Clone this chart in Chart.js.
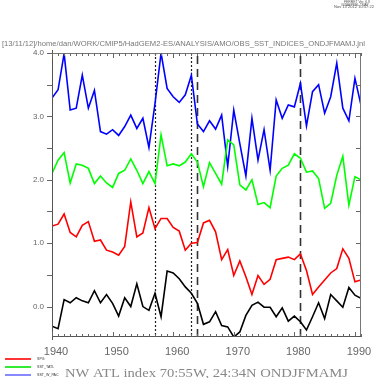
<!DOCTYPE html>
<html>
<head>
<meta charset="utf-8">
<script src="https://cdn.jsdelivr.net/npm/chart.js@4"></script>
<style>
  html, body { margin: 0; padding: 0; background: #fff; }
  canvas { display: block; }
</style>
</head>
<body>
<canvas id="c" width="384" height="378" style="width:384px;height:378px"></canvas>
<script>
// ---- data ----
const years = [];
for (let y = 1940; y <= 1991; y++) years.push(y);

const nwAtlIndex = [-0.31,-0.35,0.11,0.06,0.14,0.09,0.06,0.25,0.06,0.19,
  0.05,-0.15,0.14,0.00,0.36,0.00,-0.06,0.21,-0.16,0.56,
  0.53,0.44,0.31,0.21,0.05,-0.28,-0.24,-0.08,-0.30,-0.32,
  -0.48,-0.40,-0.14,0.02,0.07,-0.01,-0.01,-0.16,-0.02,-0.23,
  -0.15,-0.24,-0.37,-0.16,0.06,-0.19,0.19,0.09,-0.01,0.30,
  0.18,0.13];
const spg = [1.27,1.30,1.46,1.17,1.10,1.28,1.34,1.03,1.05,0.89,
  0.86,0.81,0.95,1.65,1.10,1.16,1.56,1.23,1.39,1.39,
  1.25,1.19,0.89,1.00,1.01,1.32,1.36,1.18,0.74,0.90,
  0.49,0.72,0.47,0.19,0.49,0.35,0.43,0.74,0.76,0.78,
  0.74,0.83,0.57,0.19,0.31,0.42,0.53,0.60,0.91,0.76,
  0.39,0.42];
const sstTatl = [2.10,2.31,2.43,1.95,2.25,2.23,2.18,1.94,2.06,1.95,
  1.88,2.10,2.15,2.33,2.15,1.94,2.13,1.94,2.71,2.22,
  2.25,2.22,2.28,2.41,2.28,1.89,2.27,2.10,1.93,2.63,
  2.55,1.92,1.84,2.00,1.61,1.64,1.56,2.06,2.18,2.23,
  2.41,2.34,2.12,2.14,2.02,1.55,1.63,2.07,2.37,1.60,
  2.05,2.00];
const sstWPac = [3.29,3.42,3.99,3.10,3.13,3.65,3.13,3.41,2.76,2.72,
  2.79,2.70,2.84,3.02,2.81,2.97,2.51,3.20,4.00,3.44,
  3.31,3.22,3.34,3.65,2.88,2.76,2.93,2.80,3.02,2.21,
  3.10,2.57,2.06,2.97,2.31,2.79,2.15,3.26,2.97,3.18,
  3.15,3.52,2.85,3.39,3.50,3.05,3.31,3.84,3.13,2.93,
  3.60,3.18];

const xTickLabels = [1940, 1950, 1960, 1970, 1980, 1990];
const yTickLabels = [0, 1, 2, 3, 4];
const yMinorTicks = [0, 0.5, 1, 1.5, 2, 2.5, 3, 3.5, 4];
const dottedYears = [1957, 1963];
const dashedYears = [1964, 1981];
const legendNames = ['SPG', 'SST_TATL', 'SST_W_PAC'];
const legendColors = ['#ff0000', '#00e600', '#6a6aff'];

const titleText = '[13/11/12]/home/dan/WORK/CMIP5/HadGEM2-ES/ANALYSIS/AMO/OBS_SST_INDICES_ONDJFMAMJ.jnl';
const footerText = 'NW ATL index 70:55W, 24:34N ONDJFMAMJ';
const headerLines = ['FERRET Ver. 6.8', 'NOAA/PMEL TMAP', 'Nov 13 2012 10:57:22'];

const toXY = arr => arr.map((v, i) => ({ x: years[i], y: v }));

function fitText(ctx, text, x, y, width, font, color, align) {
  ctx.save();
  ctx.font = font;
  ctx.fillStyle = color;
  ctx.textBaseline = 'middle';
  const w = ctx.measureText(text).width;
  const s = width / w;
  let x0 = x;
  if (align === 'center') x0 = x - width / 2;
  ctx.translate(x0, y);
  ctx.scale(s, 1);
  ctx.textAlign = 'left';
  ctx.fillText(text, 0, 0);
  ctx.restore();
}

const decor = {
  id: 'decor',
  beforeDatasetsDraw(chart) {
    const { ctx, chartArea: { top, bottom }, scales: { x } } = chart;
    ctx.save();
    ctx.strokeStyle = '#222';
    ctx.lineWidth = 1.2;
    ctx.setLineDash([2, 2]);
    dottedYears.forEach(yr => {
      const px = Math.round(x.getPixelForValue(yr)) + 0.5;
      ctx.beginPath(); ctx.moveTo(px, top); ctx.lineTo(px, bottom); ctx.stroke();
    });
    ctx.strokeStyle = '#333';
    ctx.lineWidth = 1.6;
    ctx.setLineDash([8, 5]);
    dashedYears.forEach(yr => {
      const px = Math.round(x.getPixelForValue(yr)) + 0.5;
      ctx.beginPath(); ctx.moveTo(px, bottom); ctx.lineTo(px, top); ctx.stroke();
    });
    ctx.restore();
  },
  afterDraw(chart) {
    const { ctx, chartArea: { left, right, top, bottom }, scales: { x, y } } = chart;
    ctx.save();
    ctx.lineWidth = 1;
    // frame
    ctx.strokeStyle = '#777';
    ctx.beginPath();
    ctx.moveTo(left, top + 0.5); ctx.lineTo(right, top + 0.5);
    ctx.moveTo(right - 0.5, top); ctx.lineTo(right - 0.5, bottom);
    ctx.stroke();
    ctx.strokeStyle = '#555';
    ctx.beginPath();
    ctx.moveTo(left + 0.5, top - 3); ctx.lineTo(left + 0.5, bottom + 3);
    ctx.moveTo(left, bottom - 0.5); ctx.lineTo(right, bottom - 0.5);
    ctx.stroke();
    // y ticks
    ctx.strokeStyle = '#666';
    ctx.beginPath();
    yMinorTicks.forEach(v => {
      const py = Math.round(y.getPixelForValue(v)) + 0.5;
      ctx.moveTo(left - 5, py); ctx.lineTo(left, py);
      ctx.moveTo(right - 5, py); ctx.lineTo(right, py);
    });
    // x ticks
    years.forEach(yr => {
      const px = Math.round(x.getPixelForValue(yr)) + 0.5;
      const len = (yr % 10 === 0) ? 5 : 3;
      ctx.moveTo(px, top); ctx.lineTo(px, top + len);
      ctx.moveTo(px, bottom); ctx.lineTo(px, bottom - len);
    });
    ctx.stroke();

    // title & header
    fitText(ctx, titleText, 2, 43.5, 363, '8px "Liberation Sans"', '#777', 'left');
    fitText(ctx, headerLines[0], 357, 2.2, 26, '3px "Liberation Sans"', '#555', 'center');
    fitText(ctx, headerLines[1], 355, 4.8, 27, '3px "Liberation Sans"', '#555', 'center');
    fitText(ctx, headerLines[2], 354, 7.4, 40, '3px "Liberation Sans"', '#555', 'center');

    // legend
    const ly = [359, 367, 375];
    legendNames.forEach((name, i) => {
      ctx.strokeStyle = legendColors[i];
      ctx.lineWidth = 1.6;
      ctx.beginPath(); ctx.moveTo(5, ly[i]); ctx.lineTo(31, ly[i]); ctx.stroke();
      ctx.font = '3.6px "Liberation Sans"';
      ctx.fillStyle = '#333';
      ctx.textBaseline = 'middle';
      ctx.textAlign = 'left';
      ctx.fillText(name, 37, ly[i] - 0.5);
    });
    // footer
    ctx.textBaseline = 'alphabetic';
    ctx.save();
    ctx.font = '13px "Liberation Serif"';
    const fw = ctx.measureText(footerText).width;
    ctx.translate(65, 377);
    ctx.scale(283 / fw, 1);
    ctx.fillStyle = '#888';
    ctx.fillText(footerText, 0, 0);
    ctx.restore();
    ctx.restore();
  }
};

const ds = (label, data, color) => ({
  label, data: toXY(data), borderColor: color, backgroundColor: color,
  borderWidth: 1.6, pointRadius: 0, tension: 0, fill: false
});

new Chart(document.getElementById('c'), {
  type: 'line',
  data: {
    datasets: [
      ds('NW ATL index', nwAtlIndex, '#000000'),
      ds('SPG', spg, '#ff0000'),
      ds('SST_TATL', sstTatl, '#00ff00'),
      ds('SST_W_PAC', sstWPac, '#0000ff')
    ]
  },
  options: {
    responsive: false,
    devicePixelRatio: 1,
    animation: false,
    layout: { padding: { top: 53, right: 23, left: 0, bottom: 0 } },
    plugins: { legend: { display: false }, tooltip: { enabled: false }, title: { display: false } },
    scales: {
      x: {
        type: 'linear', min: 1940, max: 1991,
        grid: { display: false, drawTicks: false },
        border: { display: false },
        afterBuildTicks: s => { s.ticks = xTickLabels.map(v => ({ value: v })); },
        afterFit: s => { s.height = 41; },
        ticks: {
          autoSkip: false, maxRotation: 0, padding: 8, labelOffset: 4,
          color: '#666', font: { family: 'Liberation Sans', size: 11 },
          callback: v => String(v)
        }
      },
      y: {
        type: 'linear', min: -0.48, max: 4.0,
        grid: { display: false, drawTicks: false },
        border: { display: false },
        afterBuildTicks: s => { s.ticks = yTickLabels.map(v => ({ value: v })); },
        afterFit: s => { s.width = 52; },
        ticks: {
          padding: 8, color: '#666', font: { family: 'Liberation Sans', size: 8 },
          callback: v => Number(v).toFixed(1)
        }
      }
    }
  },
  plugins: [decor]
});
</script>
</body>
</html>
